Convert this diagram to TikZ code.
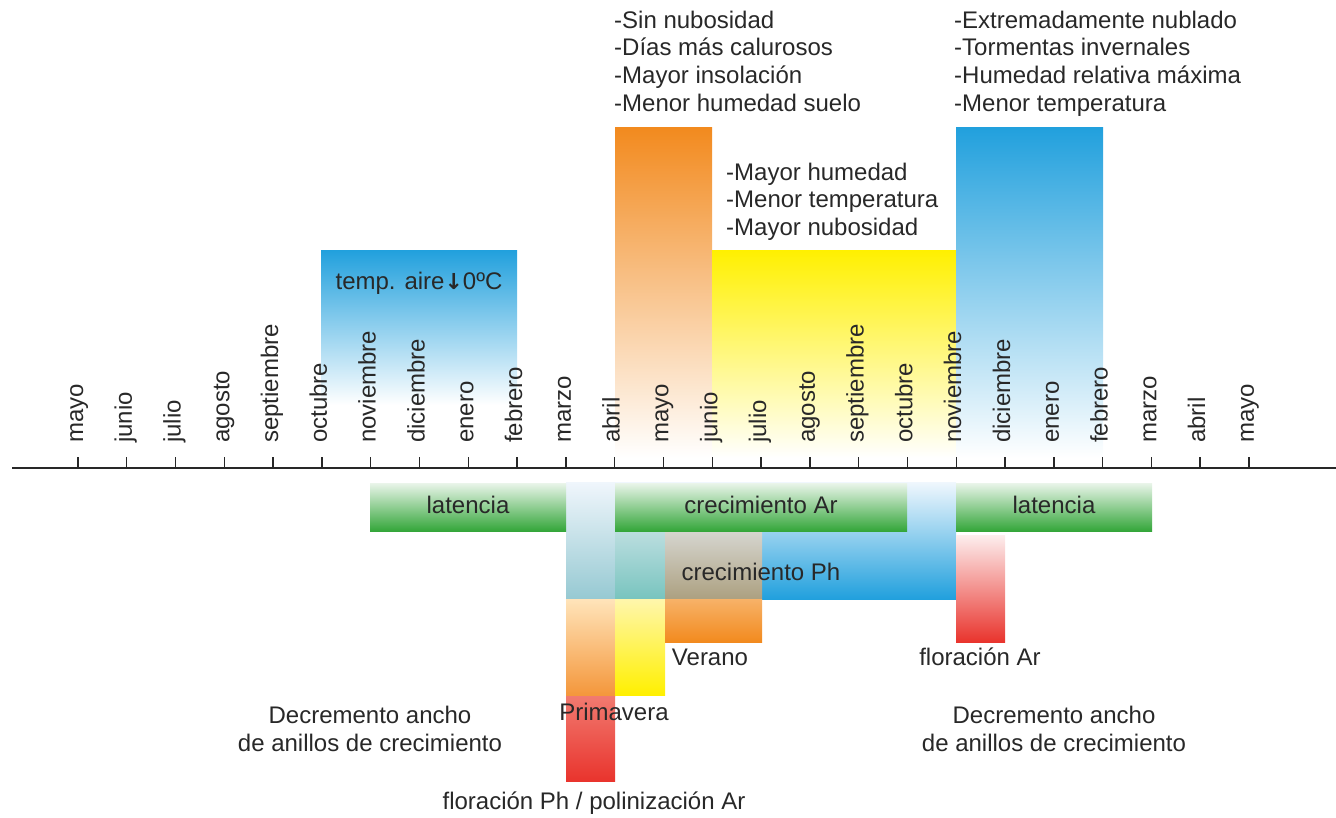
\documentclass[tikz,border=0pt]{standalone}
\usepackage{fontspec}
\setmainfont{Liberation Sans}
\newfontfamily\arrowfont{DejaVu Sans}
\definecolor{ink}{RGB}{40,40,40}
\definecolor{cblue}{RGB}{33,160,221}
\definecolor{corange}{RGB}{242,138,30}
\definecolor{cyellow}{RGB}{255,240,0}
\definecolor{cgreen}{RGB}{52,166,58}
\definecolor{cred}{RGB}{233,52,45}
\begin{document}
\begin{tikzpicture}[x=1pt,y=-1pt,
  txt/.style={font=\fontsize{24}{27.7}\selectfont, text=ink, inner sep=0pt},
  lbl/.style={txt, anchor=base},
  rowtxt/.style={txt, anchor=base west},
  greenbar/.style={top color={rgb,255:red,234;green,245;blue,234}, middle color={rgb,255:red,125;green,202;blue,125}, bottom color=cgreen},
  axisline/.style={draw=ink, line width=1.8pt},
  tickline/.style={draw=ink, line width=1.4pt}]
\useasboundingbox (0,0) rectangle (1336,817);

% climate bands above the time axis, fading towards the axis
\shade[top color=cblue, bottom color=white] (321,250) rectangle (517,405);
\shade[top color=corange, middle color={corange!30!white}, bottom color=white] (615,127) rectangle (712,458);
\shade[top color=cyellow, middle color={cyellow!35!white}, bottom color=white] (712,250) rectangle (956,458);
\shade[top color=cblue, middle color={cblue!40!white}, bottom color=white] (956,127) rectangle (1103,458);

\node[txt, anchor=base] (taire) at (419,289) {temp. aire{\arrowfont\bfseries\fontsize{22}{24}\selectfont ↓}0ºC};

\foreach \t [count=\k from 0] in {-Sin nubosidad, -Días más calurosos, -Mayor insolación, -Menor humedad suelo}
  \node[rowtxt] (sa\k) at (614,{28+27.7*\k}) {\t};
\foreach \t [count=\k from 0] in {-Mayor humedad, -Menor temperatura, -Mayor nubosidad}
  \node[rowtxt] (sb\k) at (726,{180+27.7*\k}) {\t};
\foreach \t [count=\k from 0] in {-Extremadamente nublado, -Tormentas invernales, -Humedad relativa máxima, -Menor temperatura}
  \node[rowtxt] (sc\k) at (954,{28+27.7*\k}) {\t};

% time axis with monthly ticks
\coordinate (axL) at (12,468);
\coordinate (axR) at (1336,468);
\foreach \m [count=\i from 0] in {mayo,junio,julio,agosto,septiembre,octubre,noviembre,diciembre,enero,febrero,marzo,abril,mayo,junio,julio,agosto,septiembre,octubre,noviembre,diciembre,enero,febrero,marzo,abril,mayo}{
  \coordinate (t\i) at ({78+48.79*\i},468);
  \draw[tickline] (t\i) -- ++(0,-11);
  \node[txt, rotate=90, anchor=base west] (m\i) at ({83+48.79*\i},443) {\m};
}
\draw[axisline] (axL) -- (axR);

% growth of Ph with the seasons blended into it
\shade[top color={rgb,255:red,240;green,247;blue,253}, bottom color=cblue] (566,482) rectangle (956,599);
\shade[top color={rgb,255:red,240;green,246;blue,252}, bottom color={rgb,255:red,150;green,201;blue,210}] (566,482) rectangle (615,599);
\shade[top color={rgb,255:red,188;green,222;blue,224}, bottom color={rgb,255:red,120;green,196;blue,190}] (615,531) rectangle (665,599);
\shade[top color={rgb,255:red,214;green,214;blue,208}, bottom color={rgb,255:red,172;green,160;blue,128}] (665,531) rectangle (762,599);

% dormancy and growth of Ar
\shade[greenbar] (370,483) rectangle (566,531);
\shade[greenbar] (615,483) rectangle (907,531);
\shade[greenbar] (956,483) rectangle (1152,531);

% seasons and flowering
\shade[top color={rgb,255:red,255;green,228;blue,186}, bottom color={rgb,255:red,244;green,150;blue,58}] (566,599) rectangle (615,696);
\shade[top color={rgb,255:red,241;green,122;blue,112}, bottom color=cred] (566,696) rectangle (615,781);
\shade[top color={rgb,255:red,255;green,246;blue,172}, bottom color=cyellow] (615,599) rectangle (665,695);
\shade[top color={rgb,255:red,247;green,178;blue,104}, bottom color=corange] (665,599) rectangle (762,642);
\shade[top color={rgb,255:red,253;green,238;blue,238}, bottom color=cred] (956,535) rectangle (1005,642);

\node[lbl] (lat1) at (468,513) {latencia};
\node[lbl] (crAr) at (761,513) {crecimiento Ar};
\node[lbl] (lat2) at (1054,513) {latencia};
\node[lbl] (crPh) at (761,580) {crecimiento Ph};
\node[lbl] (ver) at (710,665) {Verano};
\node[lbl] (florAr) at (980,665) {floración Ar};
\node[lbl] (prim) at (614,720) {Primavera};
\node[lbl] (decL1) at (370,723) {Decremento ancho};
\node[lbl] (decL2) at (370,751) {de anillos de crecimiento};
\node[lbl] (decR1) at (1054,723) {Decremento ancho};
\node[lbl] (decR2) at (1054,751) {de anillos de crecimiento};
\node[lbl] (florPh) at (594,809) {floración Ph / polinización Ar};
\end{tikzpicture}
\end{document}
